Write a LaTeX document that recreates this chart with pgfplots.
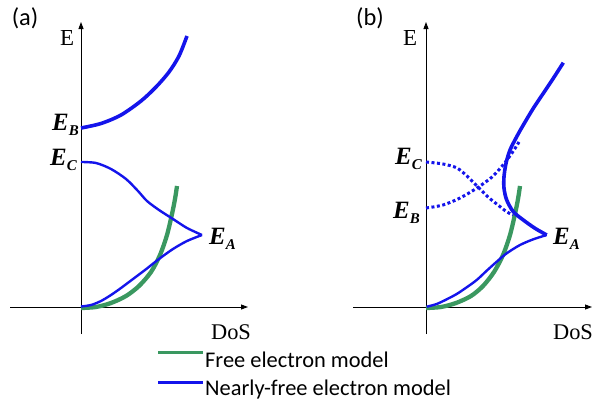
\documentclass[border=0pt]{standalone}
\usepackage{pgfplots}
\pgfplotsset{compat=1.18}
\usepackage{fontspec}
\setmainfont{Liberation Serif}
\newfontfamily\calfont{Carlito}
\usetikzlibrary{arrows.meta}
\definecolor{nfblue}{RGB}{20,20,235}
\definecolor{fegreen}{RGB}{58,152,96}
\pgfplotsset{
  panel/.style={x=1bp, y=1bp, axis lines=middle, ticks=none, enlargelimits=false,
    clip=false, ymin=-27, ymax=285, anchor=south west,
    axis line style={line width=0.9bp},
    every inner x axis line/.append style={-{Triangle[length=7bp,width=5bp]}},
    every inner y axis line/.append style={-{Triangle[length=7bp,width=5bp]}}},
  green/.style={color=fegreen, line width=4.3bp, smooth},
  thick blue/.style={color=nfblue, line width=3.6bp, smooth},
  thin blue/.style={color=nfblue, line width=2.4bp, smooth},
  dot blue/.style={color=nfblue, line width=3bp, smooth, dash pattern=on 3bp off 2.5bp},
}
\newcommand{\lab}[2]{{\fontsize{25}{25}\selectfont\bfseries\itshape #1\raisebox{-5bp}{\fontsize{15}{15}\selectfont #2}}}
\begin{document}
\begin{tikzpicture}[x=1bp, y=1bp]
\useasboundingbox (0,0) rectangle (595,404);
% ---------- panel (a)
\begin{axis}[panel, at={(10,70)}, xmin=-71, xmax=167]
\addplot[green] coordinates {(0,-1) (15,0) (30,4) (45,11) (58,21) (70,35) (79,52) (86,72) (91,93) (94,108) (96,121)};
\addplot[thick blue] coordinates {(0,179) (20,183.5) (40,192) (60,206) (75,220) (88,235) (98,251) (106,271)};
\addplot[thin blue] coordinates {(0,145) (15,144) (30,138) (45,128) (57,116) (66,106) (78,97) (92,88) (106,79) (121,72)};
\addplot[thin blue] coordinates {(121,72) (106,66) (92,58) (78,48) (64,37) (52,28) (40,19) (30,12) (20,6) (10,2) (0,0.5)};
% legend samples
\addplot[color=fegreen, line width=3bp] coordinates {(77,-45) (122,-45)};
\addplot[color=nfblue, line width=3bp] coordinates {(77,-75) (122,-75)};
\end{axis}
% ---------- panel (b)
\begin{axis}[panel, at={(353,70)}, xmin=-73, xmax=166]
\addplot[green] coordinates {(0,-1) (15,0) (30,4) (45,11) (57,21) (68,35) (77,52) (84,72) (89,93) (92,108) (94,121)};
\addplot[dot blue] coordinates {(0,145) (17,143) (31,139) (42,130) (52,120) (62,110) (72,102) (81,95) (87,92)};
\addplot[dot blue] coordinates {(0,99) (17,102) (34,109) (51,119) (66,130) (77,142) (86,154) (93,165)};
\addplot[thick blue] coordinates {(137.3,244.3) (127.3,228.7) (117.3,213.7) (107.3,198.7) (97.3,182) (90.7,170.3) (84,157) (80,143.7) (78,130.3) (78,118.7) (80.7,107) (87.3,95.3) (97.3,87) (109,78.7) (120.7,72)};
\addplot[thin blue] coordinates {(120.7,72) (107.3,67.7) (94,62) (80.7,53.7) (70.7,45.3) (60.7,36.3) (50.7,27) (40.7,19.7) (30.7,13) (20.7,7.7) (10.7,3) (0.7,0.3)};
\end{axis}
% ---------- texts
\node at (25,386) {\calfont\fontsize{24.5}{24.5}\selectfont (a)};
\node at (370,386) {\calfont\fontsize{24.5}{24.5}\selectfont (b)};
\node at (67,366) {\fontsize{23}{23}\selectfont E};
\node at (410,366) {\fontsize{23}{23}\selectfont E};
\node at (231,72) {\fontsize{22.5}{22.5}\selectfont DoS};
\node at (573,72) {\fontsize{22.5}{22.5}\selectfont DoS};
\node[anchor=base east, inner sep=0pt] at (79,274) {\lab{E}{B}};
\node[anchor=base east, inner sep=0pt] at (77,239) {\lab{E}{C}};
\node[anchor=base west, inner sep=0pt] at (209,160) {\lab{E}{A}};
\node[anchor=base east, inner sep=0pt] at (422,240) {\lab{E}{C}};
\node[anchor=base east, inner sep=0pt] at (420,186) {\lab{E}{B}};
\node[anchor=base west, inner sep=0pt] at (553,160) {\lab{E}{A}};
\node[anchor=base west, inner sep=0pt] at (205,37) {\calfont\fontsize{22.5}{22.5}\selectfont Free electron model};
\node[anchor=base west, inner sep=0pt] at (205,9) {\calfont\fontsize{22.5}{22.5}\selectfont Nearly-free electron model};
\end{tikzpicture}
\end{document}
